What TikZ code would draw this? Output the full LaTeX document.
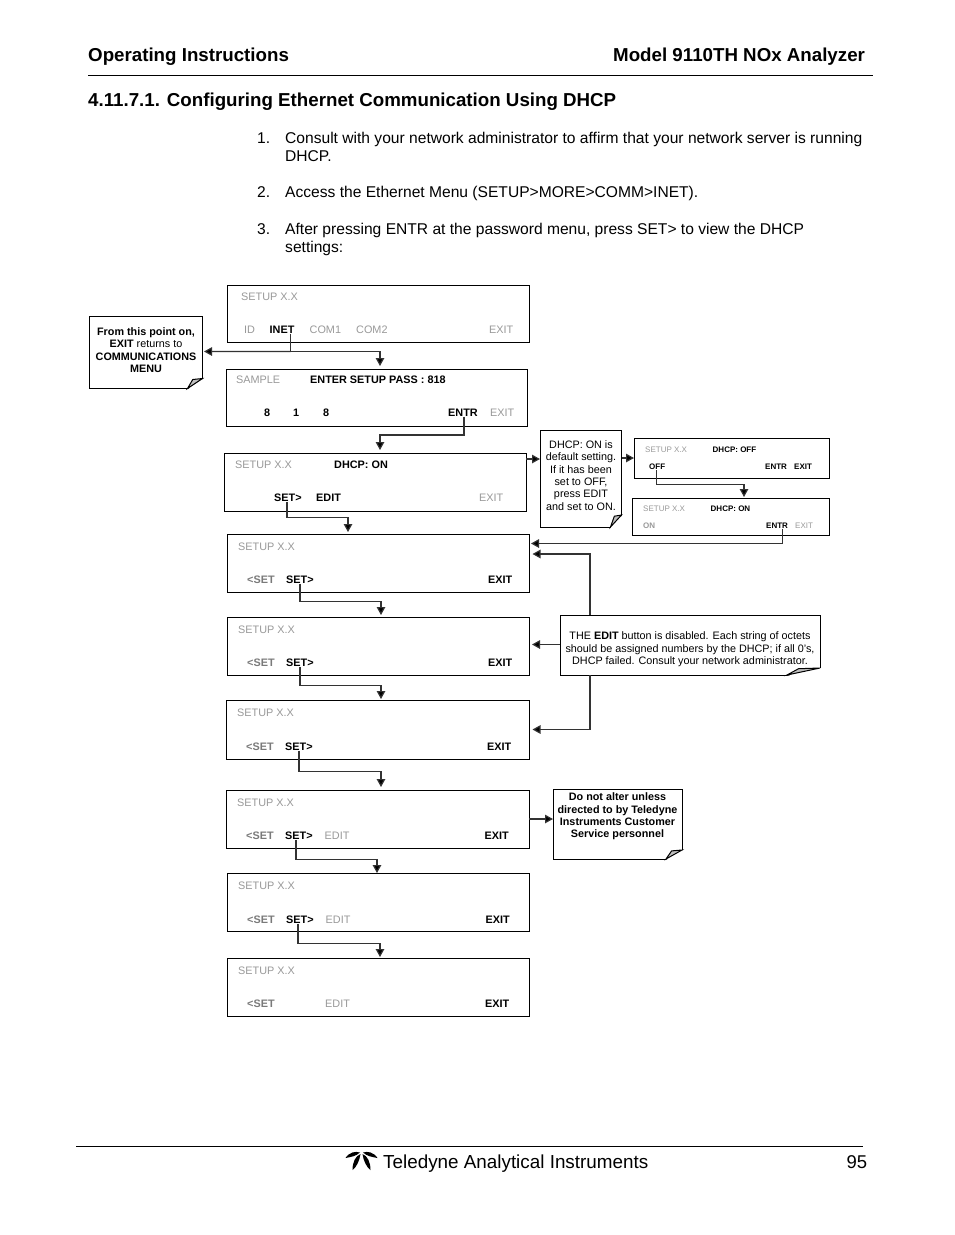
\documentclass[tikz,border=0pt]{standalone}
\usepackage{fontspec}
\setmainfont{Liberation Sans}
\usetikzlibrary{arrows.meta}
\definecolor{gristexte}{gray}{0.6}
\tikzset{x=1pt,y=-1pt,
         ecran/.style = {draw, rectangle, line width=1pt, outer sep=0pt, anchor=north west, inner sep=0pt},
         txt/.style = {anchor=west, inner sep=0pt, yshift=-0.8pt, font=\fontsize{10.85}{12}\selectfont},
         txtg/.style = {txt, text=gristexte},
         txtb/.style = {txt, font=\fontsize{10.85}{12}\selectfont\bfseries},
         txtbg/.style = {txtb, text=gristexte!80!black},
         petit/.style = {txt, font=\fontsize{8}{10}\selectfont},
         petitg/.style = {petit, text=gristexte},
         petitb/.style = {petit, font=\fontsize{8}{10}\selectfont\bfseries},
         note/.style = {draw, rectangle, line width=1pt, outer sep=0pt, anchor=north west, inner sep=0pt},
         notetxt/.style = {inner sep=0pt, align=center, font=\fontsize{10.8}{12.4}\selectfont},
         fl/.style = {line width=1.2pt, draw=black!80, -{Triangle[length=8pt,width=8.5pt,fill=black]}},
         corps/.style = {anchor=base west, inner sep=0pt, font=\fontsize{15.6}{18}\selectfont},
         titre/.style = {anchor=base west, inner sep=0pt, font=\fontsize{18.72}{22}\selectfont\bfseries},
         feuille/.style = {fill=black}
        }
\newcommand{\pli}[3]{%
  \fill[white] (#1.south east) ++(1,1) -- ++(0,-#3-1) -- ++(-#2-1,#3+1) -- cycle;
  \draw[line width=1pt, fill=black!25] (#1.south east) ++(-#2,0) -- ++(#2,-#3) -- ++(-0.65*#2,0.1*#3) -- cycle;}
\begin{document}
\begin{tikzpicture}
\useasboundingbox[fill=white] (0,0) rectangle (954,1235);

% entete
\node[titre] (hg) at (88,61) {Operating Instructions};
\node[titre] (hd) at (613,61) {Model 9110TH NOx Analyzer};
\draw[line width=1.6pt] (88,75.5) coordinate (r1) -- (873,75.5) coordinate (r2);
\node[titre] (sec) at (88,106) {4.11.7.1. Configuring Ethernet Communication Using DHCP};

\node[corps] (n1a) at (257,143) {1.};
\node[corps] (t1a) at (285,143) {Consult with your network administrator to affirm that your network server is running};
\node[corps] (t1b) at (285,161) {DHCP.};
\node[corps] (n2a) at (257,197) {2.};
\node[corps] (t2a) at (285,197) {Access the Ethernet Menu (SETUP>MORE>COMM>INET).};
\node[corps] (n3a) at (257,234) {3.};
\node[corps] (t3a) at (285,234) {After pressing ENTR at the password menu, press SET> to view the DHCP};
\node[corps] (t3b) at (285,252) {settings:};

% ecrans
\node[ecran, minimum width=302pt, minimum height=57.5pt] (s1) at (227,285) {};
\node[txtg] (s1a) at (241,296) {SETUP X.X};
\node[txtg] (s1b) at (244,329) {ID};
\node[txtb] (s1c) at (269.5,329) {INET};
\node[txtg] (s1d) at (309.5,329) {COM1};
\node[txtg] (s1e) at (356,329) {COM2};
\node[txtg] (s1f) at (489,329) {EXIT};

\node[ecran, minimum width=301pt, minimum height=57pt] (s2) at (226,369) {};
\node[txtg] (s2a) at (236,379) {SAMPLE};
\node[txtb] (s2b) at (310,379) {ENTER SETUP PASS : 818};
\node[txtb] (s2c) at (264,412) {8};
\node[txtb] (s2d) at (293,412) {1};
\node[txtb] (s2e) at (323,412) {8};
\node[txtb] (s2f) at (448,412) {ENTR};
\node[txtg] (s2g) at (490,412) {EXIT};

\node[ecran, minimum width=302pt, minimum height=58pt] (s3) at (224,453) {};
\node[txtg] (s3a) at (235,464) {SETUP X.X};
\node[txtb] (s3b) at (334,464) {DHCP: ON};
\node[txtb] (s3c) at (274,497) {SET>};
\node[txtb] (s3d) at (316,497) {EDIT};
\node[txtg] (s3e) at (479,497) {EXIT};

\node[ecran, minimum width=302pt, minimum height=58.5pt] (s4) at (227,534) {};
\node[txtg] (s4a) at (238,546) {SETUP X.X};
\node[txtbg] (s4b) at (247,579) {<SET};
\node[txtb] (s4c) at (286,579) {SET>};
\node[txtb] (s4d) at (488,579) {EXIT};

\node[ecran, minimum width=302pt, minimum height=58.5pt] (s5) at (227,617) {};
\node[txtg] (s5a) at (238,629) {SETUP X.X};
\node[txtbg] (s5b) at (247,662) {<SET};
\node[txtb] (s5c) at (286,662) {SET>};
\node[txtb] (s5d) at (488,662) {EXIT};

\node[ecran, minimum width=303pt, minimum height=59pt] (s6) at (226,700) {};
\node[txtg] (s6a) at (237,712) {SETUP X.X};
\node[txtbg] (s6b) at (246,746) {<SET};
\node[txtb] (s6c) at (285,746) {SET>};
\node[txtb] (s6d) at (487,746) {EXIT};

\node[ecran, minimum width=303pt, minimum height=58pt] (s7) at (226,790) {};
\node[txtg] (s7a) at (237,802) {SETUP X.X};
\node[txtbg] (s7b) at (246,835) {<SET};
\node[txtb] (s7c) at (285,835) {SET>};
\node[txtg] (s7e) at (324.5,835) {EDIT};
\node[txtb] (s7d) at (484.5,835) {EXIT};

\node[ecran, minimum width=302.5pt, minimum height=58.5pt] (s8) at (227,873) {};
\node[txtg] (s8a) at (238,885) {SETUP X.X};
\node[txtbg] (s8b) at (247,919) {<SET};
\node[txtb] (s8c) at (286,919) {SET>};
\node[txtg] (s8e) at (325.5,919) {EDIT};
\node[txtb] (s8d) at (485.5,919) {EXIT};

\node[ecran, minimum width=302.5pt, minimum height=58pt] (s9) at (227,958) {};
\node[txtg] (s9a) at (238,970) {SETUP X.X};
\node[txtbg] (s9b) at (247,1003) {<SET};
\node[txtg] (s9e) at (325,1003) {EDIT};
\node[txtb] (s9d) at (485,1003) {EXIT};

\node[ecran, minimum width=195.5pt, minimum height=40pt] (off) at (634,438) {};
\node[petitg] (offa) at (645,449) {SETUP X.X};
\node[petitb] (offb) at (712.5,449) {DHCP: OFF};
\node[petitb] (offc) at (649,466) {OFF};
\node[petitb] (offd) at (765,466) {ENTR};
\node[petitb] (offe) at (794,466) {EXIT};

\node[ecran, minimum width=197.5pt, minimum height=37pt] (on) at (632,498) {};
\node[petitg] (ona) at (643,508) {SETUP X.X};
\node[petitb] (onb) at (710.5,508) {DHCP: ON};
\node[petitb, text=gristexte] (onc) at (643,525) {ON};
\node[petitb] (ond) at (766,525) {ENTR};
\node[petitg] (one) at (795,525) {EXIT};

% notes
\node[note, minimum width=113.5pt, minimum height=72.5pt] (n1) at (89,316) {};
\node[notetxt] (n1t) at (146,350) {\textbf{From this point on,}\\\textbf{EXIT} returns to\\\textbf{COMMUNICATIONS}\\\textbf{MENU}};
\pli{n1}{15}{10}
\node[note, minimum width=81.5pt, minimum height=97pt] (n2) at (540,430) {};
\node[notetxt] (n2t) at (581,475.5) {DHCP: ON is\\default setting.\\If it has been\\set to OFF,\\press EDIT\\and set to ON.};
\pli{n2}{11}{12}
\node[note, minimum width=260pt, minimum height=60pt] (n3) at (560,615) {};
\node[notetxt] (n3t) at (690,649.5) {THE \textbf{EDIT} button is disabled. Each string of octets\\should be assigned numbers by the DHCP; if all 0’s,\\DHCP failed. Consult your network administrator.};
\pli{n3}{33}{7}
\node[note, minimum width=129pt, minimum height=70pt] (n4) at (553,789) {};
\node[notetxt, font=\fontsize{10.8}{12.4}\selectfont\bfseries] (n4t) at (617.5,816.5) {Do not alter unless\\directed to by Teledyne\\Instruments Customer\\Service personnel};
\pli{n4}{16}{9}

% fleches
\coordinate (p1) at (380,366);
\coordinate (p2) at (380,450);
\coordinate (p3) at (348,532);
\coordinate (p4) at (381,615);
\coordinate (p5) at (381,699);
\coordinate (p6) at (381,787);
\coordinate (p7) at (377,873);
\coordinate (p8) at (380,957);
\coordinate (p9) at (744,497);
\coordinate (q1) at (204,351.5);
\coordinate (q2) at (531,543.5);
\coordinate (q3) at (532.5,554);
\coordinate (q4) at (532.5,729.5);
\coordinate (j1) at (590,644.5);

\draw[fl] (s1c.south) ++(8.5,0) -- ++(0,17.8) -| (p1);
\draw[fl] (s1c.south) ++(8.5,17.8) -- (q1);
\draw[fl] (s2f.south) ++(1,0) -- ++(0,18.3) -| (p2);
\draw[fl] (s3c.south) ++(-1,0) -- ++(0,15.3) -| (p3);
\draw[fl] (s4c.south) -- ++(0,17.3) -| (p4);
\draw[fl] (s5c.south) -- ++(0,18.3) -| (p5);
\draw[fl] (s6c.south) -- ++(0,20.3) -| (p6);
\draw[fl] (s7c.south) ++(-3,0) -- ++(0,19.3) -| (p7);
\draw[fl] (s8c.south) ++(-2,0) -- ++(0,19.3) -| (p8);
\draw[fl] (s3.east |- n2.west) ++(0,-19.5) -- ++(14,0);
\draw[fl] (n2.east |- off.west) -- (off.west);
\draw[fl] (offc.south) ++(-1,0) -- ++(0,14.3) -| (p9);
\draw[fl] (ond.south) ++(5.5,0) |- (q2);
\draw[fl] (j1 |- n3.north) |- (q3);
\draw[fl] (j1 |- n3.south) |- (q4);
\draw[fl] (n3.west |- j1) -- ++(-28,0);
\draw[fl] (s7.east) -- (n4.west |- s7.east);

% pied
\draw[line width=1pt] (76,1146.5) coordinate (r3) -- (862.5,1146.5) coordinate (r4);
\foreach \s in {1,-1}{
  \begin{scope}[shift={(361.5,1153)}, xscale=\s]
    \fill[feuille] (1,1) .. controls (6,3) and (9,9) .. (9,17) .. controls (5,14) and (2,8) .. (1,1) -- cycle;
    \fill[feuille] (1.5,-0.5) .. controls (6,-2) and (12,-1) .. (16,5) .. controls (11,4) and (6,3.5) .. (1.5,-0.5) -- cycle;
  \end{scope}}
\node[corps, font=\fontsize{18.85}{20}\selectfont] (pied) at (383,1168) {Teledyne Analytical Instruments};
\node[corps, font=\fontsize{18.5}{20}\selectfont] (page) at (846.5,1168) {95};
\end{tikzpicture}
\end{document}
